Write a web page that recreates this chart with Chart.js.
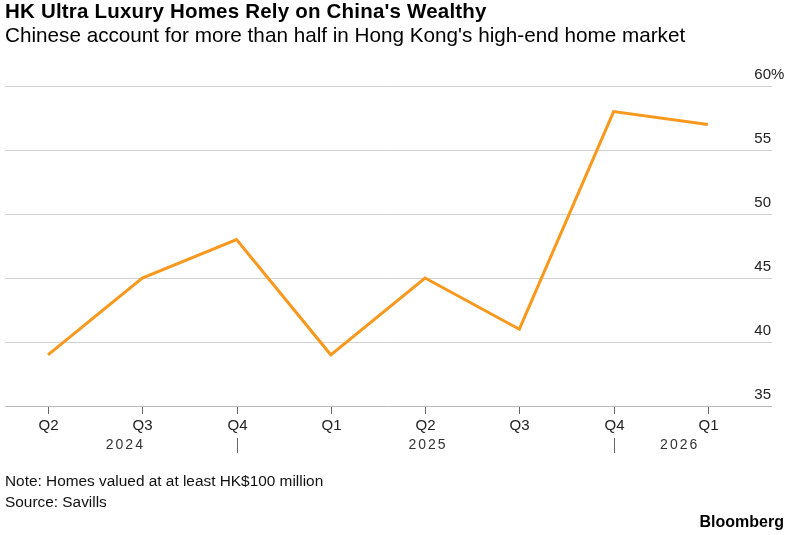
<!DOCTYPE html>
<html>
<head>
<meta charset="utf-8">
<script src="https://cdn.jsdelivr.net/npm/chart.js@4/dist/chart.umd.min.js"></script>
<style>
  html, body { margin: 0; padding: 0; background: #fff; }
  body { width: 799px; height: 535px; position: relative; overflow: hidden;
         font-family: "Liberation Sans", Arial, sans-serif; color: #000; }
  .txt { position: absolute; white-space: nowrap; }
  #title { left: 5px; top: -1px; font-size: 20.5px; line-height: 24px; font-weight: bold; letter-spacing: 0.2px; }
  #subtitle { left: 5px; top: 23px; font-size: 20.7px; line-height: 24px; }
  #note { left: 5px; top: 471px; font-size: 15.4px; line-height: 19px; color: #111; }
  #source { left: 5px; top: 492px; font-size: 15.4px; line-height: 19px; color: #111; }
  #brand { right: 15px; top: 512px; font-size: 16px; line-height: 19px; font-weight: bold; }
  #wrap { position: absolute; left: 0; top: 0; width: 799px; height: 535px; }
</style>
</head>
<body>
<div id="wrap"><canvas id="chart" width="799" height="535"></canvas></div>
<div class="txt" id="title">HK Ultra Luxury Homes Rely on China's Wealthy</div>
<div class="txt" id="subtitle">Chinese account for more than half in Hong Kong's high-end home market</div>
<div class="txt" id="note">Note: Homes valued at at least HK$100 million</div>
<div class="txt" id="source">Source: Savills</div>
<div class="txt" id="brand">Bloomberg</div>
<script>
// data
const quarters = ['Q2', 'Q3', 'Q4', 'Q1', 'Q2', 'Q3', 'Q4', 'Q1'];
const years = ['2024', '2025', '2026'];
const chineseShare = [39, 45, 48, 39, 45, 41, 58, 57];
const yTicks = [35, 40, 45, 50, 55, 60];

// custom axis drawing (Bloomberg style: labels sit above the gridlines on the right)
const axisPlugin = {
  id: 'bbgAxes',
  beforeDatasetsDraw(chart) {
    const { ctx, chartArea: area, scales: { x, y } } = chart;
    ctx.save();
    // horizontal gridlines
    yTicks.forEach(v => {
      const py = Math.round(y.getPixelForValue(v)) + 0.5;
      ctx.strokeStyle = v === yTicks[0] ? '#b8b8b8' : '#d3d3d3';
      ctx.lineWidth = 1;
      ctx.beginPath();
      ctx.moveTo(area.left, py);
      ctx.lineTo(area.right, py);
      ctx.stroke();
    });
    // y labels
    ctx.font = '15px "Liberation Sans", Arial, sans-serif';
    ctx.fillStyle = '#222';
    ctx.textBaseline = 'alphabetic';
    yTicks.forEach((v, i) => {
      const py = y.getPixelForValue(v) - 7;
      ctx.textAlign = 'right';
      ctx.fillText(String(v), area.right - 1, py);
      if (i === yTicks.length - 1) {
        ctx.textAlign = 'left';
        ctx.fillText('%', area.right - 1, py);
      }
    });
    // x tick marks + quarter labels
    const base = y.getPixelForValue(yTicks[0]);
    ctx.strokeStyle = '#666';
    ctx.textAlign = 'center';
    ctx.textBaseline = 'top';
    quarters.forEach((q, i) => {
      const px = Math.round(x.getPixelForValue(i)) + 0.5;
      ctx.beginPath();
      ctx.moveTo(px, base + 1);
      ctx.lineTo(px, base + 8);
      ctx.stroke();
      ctx.fillText(q, px, base + 12);
    });
    // year separators and labels
    ctx.font = '14px "Liberation Sans", Arial, sans-serif';
    ctx.fillStyle = '#333';
    [2, 6].forEach(i => {
      const px = Math.round(x.getPixelForValue(i)) + 0.5;
      ctx.beginPath();
      ctx.moveTo(px, base + 32);
      ctx.lineTo(px, base + 47);
      ctx.stroke();
    });
    ctx.letterSpacing = '2px';
    [0.81, 4.02, 6.69].forEach((pos, k) => {
      ctx.fillText(years[k], x.getPixelForValue(pos) + 1, base + 32);
    });
    ctx.restore();
  }
};

new Chart(document.getElementById('chart'), {
  type: 'line',
  data: {
    datasets: [{
      data: chineseShare.map((v, i) => ({ x: i, y: v })),
      borderColor: '#f8981d',
      borderWidth: 3,
      pointRadius: 0,
      tension: 0,
      borderJoinStyle: 'miter'
    }]
  },
  options: {
    responsive: false,
    animation: false,
    layout: { padding: { left: 5, right: 27, top: 86, bottom: 129 } },
    scales: {
      x: { type: 'linear', min: -0.456, max: 7.68, display: false },
      y: { min: 35, max: 60, display: false }
    },
    plugins: { legend: { display: false }, tooltip: { enabled: false } }
  },
  plugins: [axisPlugin]
});
</script>
</body>
</html>
